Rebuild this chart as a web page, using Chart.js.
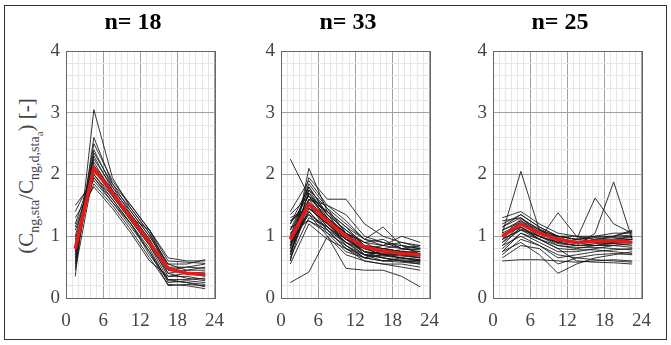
<!DOCTYPE html>
<html>
<head>
<meta charset="utf-8">
<script src="https://cdn.jsdelivr.net/npm/chart.js@4"></script>
<style>
  body { margin: 0; background: #fff; }
  #page { position: relative; width: 671px; height: 345px; overflow: hidden; background: #fff; }
  #frame { position: absolute; left: 4px; top: 5px; width: 661px; height: 333px; border: 1.5px solid #333; }
  canvas { position: absolute; top: 0; }
  #ytitle {
    position: absolute; left: 29px; top: 176px;
    transform: translate(-50%, -50%) rotate(-90deg);
    font: 21px "Liberation Serif", serif; color: #444; white-space: nowrap;
  }
  #ytitle sub { font-size: 14px; vertical-align: -6px; }
  #ytitle sub sub { font-size: 11px; vertical-align: -4px; }
</style>
</head>
<body>
<div id="page">
  <div id="frame"></div>
  <div id="ytitle">(C<sub>ng,sta</sub>/C<sub>ng,d,sta<sub>a</sub></sub>) [-]</div>
  <canvas id="p1" width="196" height="345" style="left:40px"></canvas>
  <canvas id="p2" width="196" height="345" style="left:255px"></canvas>
  <canvas id="p3" width="196" height="345" style="left:467px"></canvas>
</div>
<script>
// hour of day at the middle of each 3-h window
const hours = [1.5, 4.5, 7.5, 10.5, 13.5, 16.5, 19.5, 22.5];

const titles = ['n= 18', 'n= 33', 'n= 25'];

// group 1: single days
const days1 = [
  [0.35, 3.05, 1.95, 1.45, 1.05, 0.45, 0.50, 0.55],
  [0.55, 2.60, 1.85, 1.40, 1.00, 0.55, 0.55, 0.62],
  [0.70, 2.40, 1.80, 1.35, 0.95, 0.40, 0.45, 0.50],
  [0.80, 2.30, 1.75, 1.30, 0.90, 0.35, 0.40, 0.42],
  [1.00, 2.20, 1.70, 1.30, 1.10, 0.60, 0.58, 0.56],
  [1.20, 2.10, 1.65, 1.25, 0.85, 0.30, 0.30, 0.32],
  [0.45, 2.05, 1.70, 1.35, 0.95, 0.45, 0.40, 0.38],
  [1.40, 2.00, 1.60, 1.20, 0.80, 0.25, 0.28, 0.25],
  [0.90, 1.95, 1.55, 1.15, 0.75, 0.20, 0.22, 0.20],
  [1.50, 1.90, 1.55, 1.20, 0.70, 0.30, 0.25, 0.18],
  [0.60, 2.15, 1.75, 1.40, 1.00, 0.50, 0.40, 0.35],
  [1.10, 1.85, 1.50, 1.10, 0.65, 0.22, 0.20, 0.15],
  [0.75, 2.25, 1.80, 1.45, 1.05, 0.55, 0.45, 0.45],
  [1.30, 1.80, 1.45, 1.05, 0.60, 0.35, 0.35, 0.30],
  [0.50, 2.35, 1.85, 1.50, 1.10, 0.50, 0.50, 0.48],
  [0.95, 2.00, 1.65, 1.25, 0.85, 0.40, 0.32, 0.28],
  [0.65, 2.50, 1.90, 1.50, 1.10, 0.65, 0.60, 0.60],
  [1.15, 1.95, 1.60, 1.20, 0.75, 0.28, 0.25, 0.22]
];
const mean1 = [0.80, 2.10, 1.70, 1.30, 0.90, 0.48, 0.40, 0.38];

// group 2
const days2 = [
  [2.25, 1.65, 1.30, 1.05, 0.85, 0.80, 0.75, 0.72],
  [0.25, 0.42, 1.00, 0.48, 0.45, 0.45, 0.35, 0.18],
  [0.60, 2.10, 1.40, 1.05, 0.80, 0.75, 0.70, 0.68],
  [0.80, 1.95, 1.60, 1.60, 1.20, 1.00, 0.90, 0.85],
  [1.00, 1.85, 1.45, 1.20, 0.95, 1.15, 0.85, 0.80],
  [1.20, 1.80, 1.35, 1.10, 0.90, 0.85, 1.00, 0.90],
  [0.70, 1.75, 1.30, 1.00, 0.80, 0.70, 0.65, 0.60],
  [0.90, 1.70, 1.25, 0.95, 0.75, 0.70, 0.70, 0.65],
  [1.35, 1.65, 1.40, 1.15, 0.85, 0.80, 0.75, 0.75],
  [0.85, 1.60, 1.20, 0.90, 0.70, 0.65, 0.60, 0.55],
  [1.10, 1.55, 1.15, 0.85, 0.65, 0.60, 0.65, 0.60],
  [0.95, 1.50, 1.10, 0.80, 0.60, 0.55, 0.55, 0.50],
  [1.25, 1.45, 1.30, 1.05, 0.90, 0.95, 0.80, 0.85],
  [0.75, 1.40, 1.05, 0.75, 0.65, 0.80, 0.85, 0.70],
  [1.05, 1.35, 1.00, 0.70, 0.60, 0.55, 0.50, 0.45],
  [0.65, 1.30, 1.15, 0.95, 0.85, 0.75, 0.70, 0.65],
  [1.15, 1.25, 1.10, 0.90, 0.80, 0.70, 0.65, 0.62],
  [0.55, 1.20, 0.95, 0.80, 0.70, 0.65, 0.60, 0.58],
  [1.40, 1.90, 1.50, 1.25, 0.95, 0.85, 0.80, 0.78],
  [0.85, 1.70, 1.35, 1.10, 0.85, 0.80, 0.75, 0.72],
  [1.00, 1.60, 1.50, 1.35, 1.00, 0.90, 0.80, 0.75],
  [0.80, 1.50, 1.25, 1.05, 0.90, 0.75, 0.72, 0.70],
  [1.30, 1.45, 1.20, 0.95, 0.75, 0.70, 0.68, 0.65],
  [0.70, 1.55, 1.30, 1.00, 0.70, 0.60, 0.62, 0.60],
  [1.20, 1.65, 1.25, 0.85, 0.70, 0.75, 0.78, 0.80],
  [0.90, 1.35, 1.15, 0.90, 0.75, 0.72, 0.70, 0.68],
  [1.10, 1.75, 1.45, 1.05, 0.80, 0.75, 0.70, 0.70],
  [0.75, 1.45, 1.20, 0.95, 0.80, 0.85, 0.90, 0.82],
  [0.95, 1.80, 1.35, 1.00, 0.75, 0.65, 0.60, 0.58],
  [1.05, 1.25, 1.05, 0.85, 0.65, 0.60, 0.58, 0.55],
  [0.60, 1.60, 1.40, 1.15, 0.95, 0.90, 0.85, 0.80],
  [1.25, 1.50, 1.15, 0.90, 0.70, 0.68, 0.65, 0.62],
  [0.85, 1.40, 1.10, 0.80, 0.65, 0.70, 0.75, 0.72]
];
const mean2 = [0.95, 1.52, 1.25, 1.00, 0.83, 0.76, 0.72, 0.70];

// group 3
const days3 = [
  [1.05, 2.05, 1.10, 0.95, 0.90, 0.95, 0.95, 0.95],
  [0.60, 0.62, 0.62, 0.60, 0.58, 0.60, 0.62, 0.60],
  [1.00, 1.15, 0.95, 1.38, 1.00, 0.90, 0.95, 1.00],
  [0.95, 1.10, 1.00, 0.90, 0.95, 1.62, 1.20, 1.05],
  [1.00, 1.15, 1.00, 0.90, 0.85, 1.05, 1.88, 0.95],
  [0.75, 0.90, 0.70, 0.40, 0.55, 0.65, 0.70, 0.75],
  [1.30, 1.40, 1.20, 1.05, 1.00, 1.00, 1.05, 1.05],
  [1.20, 1.35, 1.15, 1.00, 0.95, 0.98, 1.00, 1.02],
  [1.15, 1.30, 1.10, 1.00, 1.00, 0.95, 0.98, 1.00],
  [1.10, 1.25, 1.05, 0.95, 0.90, 0.90, 0.92, 0.95],
  [0.90, 1.20, 1.05, 0.90, 0.85, 0.88, 0.90, 0.92],
  [0.85, 1.15, 0.95, 0.85, 0.80, 0.85, 0.88, 0.90],
  [0.80, 1.05, 0.90, 0.75, 0.75, 0.80, 0.85, 0.88],
  [0.70, 0.95, 0.85, 0.65, 0.70, 0.75, 0.78, 0.80],
  [0.65, 0.85, 0.80, 0.55, 0.65, 0.70, 0.72, 0.70],
  [1.25, 1.30, 1.05, 1.00, 0.95, 1.00, 1.00, 1.08],
  [0.95, 1.25, 1.10, 0.95, 0.92, 0.90, 0.88, 0.85],
  [1.05, 1.20, 1.00, 0.88, 0.85, 0.85, 0.85, 0.82],
  [0.90, 1.10, 0.95, 0.80, 0.78, 0.78, 0.75, 0.72],
  [1.15, 1.35, 1.15, 1.00, 0.95, 0.92, 0.95, 0.98],
  [0.85, 1.00, 0.85, 0.70, 0.65, 0.62, 0.60, 0.58],
  [1.00, 1.28, 1.12, 0.98, 0.90, 0.85, 0.90, 0.95],
  [0.75, 1.05, 0.95, 0.80, 0.60, 0.58, 0.57, 0.55],
  [1.10, 1.22, 1.08, 0.92, 0.88, 0.95, 1.00, 1.10],
  [0.95, 1.12, 1.00, 0.85, 0.82, 0.82, 0.80, 0.78]
];
const mean3 = [1.00, 1.20, 1.05, 0.95, 0.90, 0.92, 0.93, 0.90];

Chart.defaults.font.family = '"Liberation Serif", "Times New Roman", serif';

function isWhole(v) { return Math.abs(v - Math.round(v)) < 1e-6; }

// box around the plot area, grid lines only reach the edges in light gray
const framePlugin = {
  id: 'frame',
  beforeDatasetsDraw(chart) {
    const a = chart.chartArea, c = chart.ctx;
    c.save();
    c.strokeStyle = '#666';
    c.lineWidth = 1;
    c.strokeRect(Math.round(a.left) + 0.5, Math.round(a.top) + 0.5,
                 Math.round(a.right - a.left), Math.round(a.bottom - a.top));
    c.restore();
  }
};

function toPoints(vals) {
  return hours.map((h, i) => ({ x: h, y: vals[i] }));
}

function makePanel(id, title, days, mean) {
  const sets = [{
    data: toPoints(mean),
    borderColor: '#e51a1a',
    borderWidth: 3.5
  }];
  days.forEach(d => sets.push({
    data: toPoints(d),
    borderColor: 'rgba(20,20,20,0.85)',
    borderWidth: 1
  }));

  new Chart(document.getElementById(id), {
    type: 'line',
    data: { datasets: sets },
    plugins: [framePlugin],
    options: {
      responsive: false,
      animation: false,
      events: [],
      elements: { point: { radius: 0 }, line: { tension: 0 } },
      layout: { padding: { top: 0, right: 10, bottom: 15, left: 0 } },
      plugins: {
        legend: { display: false },
        tooltip: { enabled: false },
        title: {
          display: true,
          text: title,
          color: '#000',
          font: { size: 24, weight: 'bold' },
          padding: { top: 8, bottom: 14.2 }
        }
      },
      scales: {
        x: {
          type: 'linear',
          min: 0,
          max: 24,
          afterFit: s => { s.height = 32; },
          border: { display: false },
          grid: {
            drawTicks: false,
            color: c => (c.tick && c.tick.value % 6 === 0) ? '#a0a0a0' : '#e6e6e6'
          },
          ticks: {
            stepSize: 1,
            autoSkip: false,
            maxRotation: 0,
            padding: 12,
            color: '#444',
            font: { size: 19 },
            callback: v => (v % 6 === 0 ? v : '')
          }
        },
        y: {
          min: 0,
          max: 4,
          afterFit: s => { s.width = 26; },
          border: { display: false },
          grid: {
            drawTicks: false,
            color: c => (c.tick && isWhole(c.tick.value)) ? '#a0a0a0' : '#e6e6e6'
          },
          ticks: {
            stepSize: 0.2,
            autoSkip: false,
            padding: 6,
            color: '#444',
            font: { size: 19 },
            callback: v => (isWhole(v) ? Math.round(v) : '')
          }
        }
      }
    }
  });
}

makePanel('p1', titles[0], days1, mean1);
makePanel('p2', titles[1], days2, mean2);
makePanel('p3', titles[2], days3, mean3);
</script>
</body>
</html>
